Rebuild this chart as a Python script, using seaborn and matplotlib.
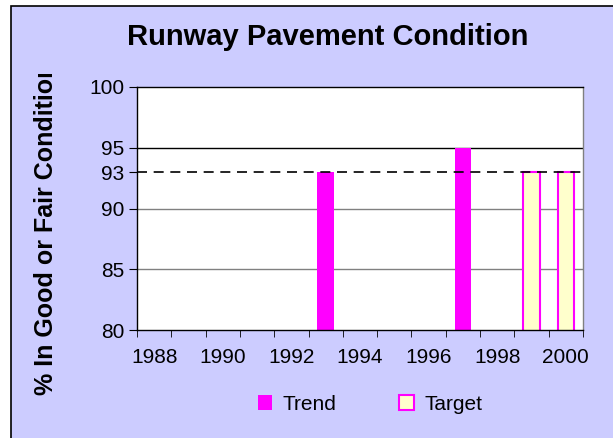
import numpy as np
import matplotlib.pyplot as plt
import pandas as pd
import seaborn as sns

# Chart values
years = [1988, 1989, 1990, 1991, 1992, 1993, 1994, 1995, 1996, 1997, 1998, 1999, 2000]
trend = [np.nan, np.nan, np.nan, np.nan, np.nan, 93, np.nan, np.nan, np.nan, 95, np.nan, np.nan, np.nan]
target = [np.nan, np.nan, np.nan, np.nan, np.nan, np.nan, np.nan, np.nan, np.nan, np.nan, np.nan, 93, 93]
target_line = 93
y_ticks = [80, 85, 90, 93, 95, 100]

df = pd.DataFrame({"year": years, "Trend": trend, "Target": target})
df = df.melt(id_vars="year", var_name="series", value_name="value")

sns.set_style("white")
plt.rcParams["font.family"] = ["Liberation Sans", "DejaVu Sans"]
plt.rcParams["text.color"] = "black"
plt.rcParams["xtick.color"] = "black"
plt.rcParams["ytick.color"] = "black"

bg = "#CCCCFF"
W, H = 613, 438
fig = plt.figure(figsize=(6.13, 4.38), dpi=100, facecolor="white")

# lavender chart area with black border (left/top visible)
fig.patches.append(plt.Rectangle((11 / W, -0.01), 1.02 - 11 / W, 1.01 - 6 / H,
                                 transform=fig.transFigure, facecolor=bg,
                                 edgecolor="black", lw=1.2, zorder=-10))

ax = fig.add_axes([137 / W, 1 - 330 / H, 446 / W, 243 / H])
ax.set_facecolor("white")

sns.barplot(
    data=df, x="year", y="value", hue="series", order=years,
    hue_order=["Trend", "Target"], dodge=False, width=0.48, saturation=1,
    palette={"Trend": "#FF00FF", "Target": "#FFFFCC"},
    ax=ax, legend=False,
)
for patch in ax.containers[1]:
    patch.set_edgecolor("#FF00FF")
    patch.set_linewidth(1.5)
for patch in ax.containers[0]:
    patch.set_edgecolor("none")

ax.set_ylim(80, 100)
ax.set_xlim(-0.5, len(years) - 0.5)
ax.set_yticks(y_ticks)
ax.set_yticklabels([str(t) for t in y_ticks], fontsize=15)
for v in [85, 90, 95]:
    ax.axhline(v, color="#808080" if v != 95 else "black", lw=1, zorder=0)
ax.axhline(target_line, color="black", lw=1.2, ls=(0, (6, 4)), zorder=3)

ax.set_xticks(range(len(years)))
ax.set_xticklabels([str(y) if y % 2 == 0 else "" for y in years], fontsize=15)
ax.tick_params(axis="x", length=0, pad=13)
ax.set_xticks(np.arange(-0.5, len(years)), minor=True)
ax.tick_params(axis="x", which="minor", length=5, color="black", direction="out", bottom=True)
ax.tick_params(axis="y", length=6, color="black", direction="out", left=True, pad=3)
ax.set_xlabel("")
ax.set_ylabel("")
for side in ["left", "bottom", "top"]:
    ax.spines[side].set_color("black")
ax.spines["right"].set_color("#808080")
for s in ax.spines.values():
    s.set_linewidth(1)

fig.text(328 / W, 1 - 37 / H, "Runway Pavement Condition",
         ha="center", va="center", fontsize=21, fontweight="bold")

fig.text(46 / W, 1 - 395 / H, "% In Good or Fair Condition",
         rotation=90, ha="center", va="bottom", fontsize=18, fontweight="bold", zorder=3)
# the label runs past the top of the plot block; hide the overflow
fig.patches.append(plt.Rectangle((20 / W, 1 - 74 / H), 60 / W, 64 / H,
                                 transform=fig.transFigure, facecolor=bg,
                                 edgecolor="none", zorder=5))

handles = [
    plt.Rectangle((0, 0), 1, 1, facecolor="#FF00FF", edgecolor="none"),
    plt.Rectangle((0, 0), 1, 1, facecolor="#FFFFCC", edgecolor="#FF00FF", lw=1.5),
]
fig.legend(handles, ["Trend", "Target"], loc="center", bbox_to_anchor=(370 / W, 1 - 404 / H),
           ncol=2, frameon=False, fontsize=15, handlelength=0.7, handleheight=0.7,
           columnspacing=3.0, handletextpad=0.5)

fig.savefig("out.png", dpi=100, facecolor="white")
